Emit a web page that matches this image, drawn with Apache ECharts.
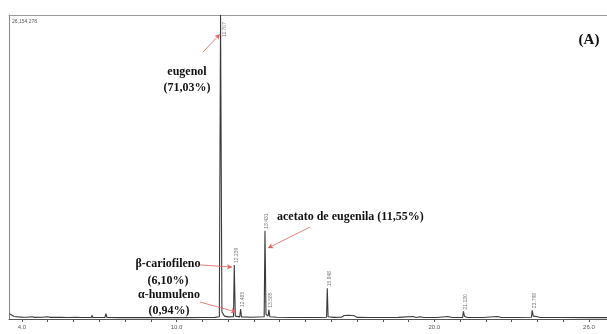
<!DOCTYPE html>
<html>
<head>
<meta charset="utf-8">
<title>Cromatograma</title>
<script src="https://cdn.jsdelivr.net/npm/echarts@6/dist/echarts.min.js"></script>
<style>
    html, body { margin: 0; padding: 0; background: #fff; }
    #chromChart { width: 607px; height: 334px; }
</style>
</head>
<body>
<div id="chromChart"></div>
<script>
const traceTime = [
    3.52, 3.58, 3.7, 3.85, 4.0, 4.2, 4.4, 4.5, 4.8, 5.0, 5.1, 5.5, 5.8, 6.1, 6.3,
    6.70, 6.72, 6.75, 7.22, 7.26, 7.30, 7.8, 8.5, 9.2, 9.8, 10.4, 11.0, 11.5,
    11.66, 11.707, 11.76, 11.80, 11.86, 12.0, 12.21, 12.239, 12.28, 12.45, 12.485, 12.52,
    12.9, 13.40, 13.431, 13.47, 13.55, 13.585, 13.62, 13.9, 14.4, 14.85, 14.87, 14.9,
    15.5, 15.82, 15.848, 15.88, 16.1, 16.4, 16.5, 16.7, 16.9, 17.0, 17.5, 17.95, 17.97,
    18.0, 18.6, 19.17, 19.3, 19.44, 19.6, 20.1, 20.53, 20.7, 21.10, 21.130, 21.17, 21.3,
    21.9, 22.3, 22.45, 22.6, 23.2, 23.77, 23.798, 23.84, 24.0, 24.1, 25.0, 26.0, 26.7
];
const traceSignal = [
    0.45, 0.30, 0.22, 0.18, 0.16, 0.15, 0.19, 0.14, 0.15, 0.20, 0.14, 0.15, 0.13, 0.15, 0.13,
    0.13, 0.32, 0.13, 0.13, 0.45, 0.13, 0.12, 0.13, 0.12, 0.13, 0.12, 0.13, 0.14,
    0.20, 26.154278, 0.60, 0.65, 0.25, 0.18, 0.20, 4.65, 0.25, 0.18, 0.85, 0.18,
    0.15, 0.20, 7.60, 0.40, 0.25, 0.80, 0.20, 0.15, 0.13, 0.13, 0.30, 0.13,
    0.13, 0.15, 2.65, 0.20, 0.14, 0.15, 0.30, 0.32, 0.28, 0.14, 0.13, 0.13, 0.25,
    0.13, 0.14, 0.22, 0.13, 0.20, 0.13, 0.13, 0.22, 0.13, 0.14, 0.65, 0.22, 0.13,
    0.13, 0.20, 0.22, 0.13, 0.13, 0.15, 0.75, 0.25, 0.20, 0.13, 0.13, 0.12, 0.12
];

// picos identificados (rótulos verticais)
const peakTimes = [11.707, 12.239, 12.485, 13.431, 13.585, 15.848, 21.130, 23.798];
const peakHeights = [26.154278, 4.65, 0.85, 7.60, 0.80, 2.65, 0.65, 0.75];

// eixo x
const tickLabels = [4, 10, 20, 26];
const tickMarks = [4, 5, 6, 7, 8, 9, 10, 11, 12, 13, 14, 15, 16, 17, 18, 19, 20, 21, 22, 23, 24, 25, 26];
const yMax = 26.154278;

// compostos: nome, percentual, seta início (t, sinal), seta fim (t, sinal)
const compoundNames = ['eugenol', 'β-cariofileno', 'α-humuleno', 'acetato de eugenila'];
const compoundShares = ['71,03%', '6,10%', '0,94%', '11,55%'];
const arrowFrom = [[11.03, 22.97], [10.91, 4.65], [10.91, 1.46], [15.18, 7.91]];
const arrowTo = [[11.68, 24.5], [12.15, 4.47], [12.31, 0.60], [13.55, 6.11]];

document.addEventListener('DOMContentLoaded', function () {
    const chartDom = document.getElementById('chromChart');
    const chart = echarts.init(chartDom, null, { renderer: 'canvas' });
    chart.setOption(getChartOptions());
    window.chromChart = chart;
});

function serifText(x, y, text, size, align) {
    return {
        type: 'text',
        x: x,
        y: y,
        style: {
            text: text,
            font: 'bold ' + size + 'px "Liberation Serif", serif',
            fill: '#111',
            textAlign: align || 'center',
            textVerticalAlign: 'middle'
        }
    };
}

function getChartOptions() {
    const trace = traceTime.map((t, i) => [t, traceSignal[i]]);

    const peakData = peakTimes.map((t, i) => {
        const item = { value: [t, peakHeights[i]] };
        // o pico do eugenol sai da escala: rótulo ao lado do topo
        if (i === 0) {
            item.label = { position: [4, 22] };
        }
        return item;
    });

    const arrows = arrowFrom.map((p, i) => [
        { coord: p },
        { coord: arrowTo[i] }
    ]);

    return {
        animation: false,
        backgroundColor: '#fff',
        grid: { left: 9, right: 0, top: 15, bottom: 15 },
        xAxis: [
            {
                type: 'value',
                min: 3.5,
                max: 26.7,
                axisLine: { show: true, lineStyle: { color: '#555', width: 1 } },
                axisTick: {
                    show: true,
                    length: 3,
                    customValues: tickMarks,
                    lineStyle: { color: '#555' }
                },
                axisLabel: {
                    customValues: tickLabels,
                    formatter: v => v.toFixed(1),
                    color: '#555',
                    fontSize: 6,
                    margin: 5,
                    fontFamily: 'Liberation Sans'
                },
                splitLine: { show: false }
            },
            {
                type: 'value',
                position: 'top',
                min: 3.5,
                max: 26.7,
                axisLine: { show: true, lineStyle: { color: '#999', width: 1 } },
                axisTick: { show: false },
                axisLabel: { show: false },
                splitLine: { show: false }
            }
        ],
        yAxis: {
            type: 'value',
            min: 0,
            max: yMax,
            axisLine: { show: true, lineStyle: { color: '#888', width: 1 } },
            axisTick: { show: false },
            axisLabel: { show: false },
            splitLine: { show: false }
        },
        series: [
            {
                name: 'sinal',
                type: 'line',
                data: trace,
                symbol: 'none',
                lineStyle: { color: '#3a3a3a', width: 1.1 },
                clip: true,
                markLine: {
                    silent: true,
                    symbol: ['none', 'arrow'],
                    symbolSize: [4, 5],
                    label: { show: false },
                    lineStyle: { color: '#e06060', width: 0.8, type: 'solid' },
                    data: arrows
                }
            },
            {
                name: 'picos',
                type: 'scatter',
                data: peakData,
                symbolSize: 0,
                label: {
                    show: true,
                    rotate: 90,
                    position: [2, -2],
                    align: 'left',
                    verticalAlign: 'middle',
                    fontSize: 5,
                    color: '#555',
                    fontFamily: 'Liberation Sans',
                    formatter: p => p.value[0].toFixed(3)
                }
            }
        ],
        graphic: [
            {
                type: 'text',
                x: 12,
                y: 22,
                style: {
                    text: '26,154,278',
                    font: '5px "Liberation Sans", sans-serif',
                    fill: '#555',
                    textVerticalAlign: 'middle'
                }
            },
            serifText(589, 40, '(A)', 15),
            serifText(187, 72, compoundNames[0], 12),
            serifText(187, 88, '(' + compoundShares[0] + ')', 12),
            serifText(168, 264, compoundNames[1], 12),
            serifText(168, 281, '(' + compoundShares[1] + ')', 12),
            serifText(169, 295, compoundNames[2], 12),
            serifText(169, 311, '(' + compoundShares[2] + ')', 12),
            serifText(277, 217, compoundNames[3] + ' (' + compoundShares[3] + ')', 12, 'left')
        ]
    };
}
</script>
</body>
</html>
